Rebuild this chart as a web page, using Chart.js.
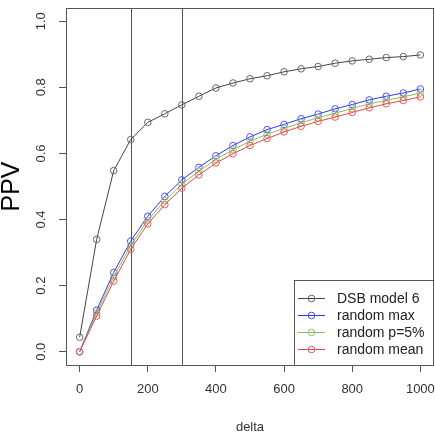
<!DOCTYPE html>
<html>
<head>
<meta charset="utf-8">
<script src="https://cdn.jsdelivr.net/npm/chart.js@4/dist/chart.umd.min.js"></script>
<style>
  html, body { margin: 0; padding: 0; background: #fff; }
  #wrap { width: 435px; height: 432px; }
</style>
</head>
<body>
<div id="wrap"><canvas id="ppv-chart" width="435" height="432"></canvas></div>
<script>
const deltas = [0, 50, 100, 150, 200, 250, 300, 350, 400, 450, 500, 550, 600, 650, 700, 750, 800, 850, 900, 950, 1000];

const dsbModel6 = [0.044, 0.34, 0.548, 0.642, 0.694, 0.72, 0.747, 0.773, 0.798, 0.813, 0.826, 0.835, 0.847, 0.856, 0.863, 0.873, 0.88, 0.885, 0.89, 0.893, 0.898];
const randomMax = [0.0, 0.126, 0.24, 0.335, 0.41, 0.47, 0.52, 0.558, 0.593, 0.624, 0.65, 0.672, 0.688, 0.705, 0.719, 0.735, 0.748, 0.762, 0.773, 0.783, 0.795];
const randomP5 = [0.0, 0.117, 0.227, 0.322, 0.398, 0.457, 0.507, 0.546, 0.582, 0.611, 0.637, 0.658, 0.676, 0.693, 0.708, 0.722, 0.736, 0.75, 0.761, 0.771, 0.783];
const randomMean = [0.0, 0.108, 0.214, 0.31, 0.387, 0.445, 0.495, 0.535, 0.571, 0.599, 0.624, 0.645, 0.665, 0.682, 0.697, 0.71, 0.724, 0.738, 0.75, 0.76, 0.771];

const xTicks = [0, 200, 400, 600, 800, 1000];
const yTicks = [0, 0.2, 0.4, 0.6, 0.8, 1.0];
const cutoffs = [150, 300];

const FONT = "'Liberation Sans', Arial, Helvetica, sans-serif";

function makeSeries(label, values, line, point, order) {
  return {
    label: label,
    data: deltas.map((d, i) => ({ x: d, y: values[i] })),
    borderColor: line,
    borderWidth: 1,
    pointBorderColor: point,
    pointBackgroundColor: 'rgba(0,0,0,0)',
    pointBorderWidth: 1,
    pointRadius: 3.3,
    fill: false,
    tension: 0,
    order: order
  };
}

// box round the plot, vertical cut-off lines and the legend
const extras = {
  id: 'extras',
  beforeDatasetsDraw(chart) {
    const { ctx, chartArea, scales } = chart;
    ctx.save();
    ctx.strokeStyle = '#555';
    ctx.lineWidth = 1;
    cutoffs.forEach(c => {
      const px = Math.round(scales.x.getPixelForValue(c)) + 0.5;
      ctx.beginPath();
      ctx.moveTo(px, chartArea.top);
      ctx.lineTo(px, chartArea.bottom);
      ctx.stroke();
    });
    ctx.restore();
  },
  afterDraw(chart) {
    const { ctx, chartArea } = chart;
    ctx.save();
    ctx.strokeStyle = '#555';
    ctx.lineWidth = 1;
    ctx.strokeRect(chartArea.left + 0.5, chartArea.top + 0.5,
      chartArea.right - chartArea.left - 1, chartArea.bottom - chartArea.top);

    // legend, bottom right corner
    const boxL = 294.5, boxT = 280.5;
    const boxR = chartArea.right - 0.5, boxB = chartArea.bottom + 0.5;
    ctx.fillStyle = '#fff';
    ctx.fillRect(boxL, boxT, boxR - boxL, boxB - boxT);
    ctx.strokeRect(boxL, boxT, boxR - boxL, boxB - boxT);
    ctx.font = '14px ' + FONT;
    ctx.textBaseline = 'middle';
    ctx.textAlign = 'left';
    chart.data.datasets.forEach((ds, i) => {
      const y = 298.5 + i * 17;
      ctx.strokeStyle = ds.borderColor;
      ctx.beginPath();
      ctx.moveTo(298, y);
      ctx.lineTo(325, y);
      ctx.stroke();
      ctx.strokeStyle = ds.pointBorderColor;
      ctx.beginPath();
      ctx.arc(311.5, y, 3.3, 0, Math.PI * 2);
      ctx.stroke();
      ctx.fillStyle = '#222';
      ctx.fillText(ds.label, 337, y + 1);
    });
    ctx.restore();
  }
};

new Chart(document.getElementById('ppv-chart'), {
  type: 'line',
  data: {
    datasets: [
      makeSeries('DSB model 6', dsbModel6, '#444', '#666', 3),
      makeSeries('random max', randomMax, '#3434f0', '#4f4fff', 2),
      makeSeries('random p=5%', randomP5, '#80c060', '#8cc870', 1),
      makeSeries('random mean', randomMean, '#e04848', '#e85a5a', 0)
    ]
  },
  options: {
    responsive: false,
    animation: false,
    events: [],
    layout: { autoPadding: false, padding: { top: 8, right: 1, left: 0, bottom: 0 } },
    plugins: { legend: { display: false }, tooltip: { enabled: false } },
    scales: {
      x: {
        type: 'linear',
        min: -40,
        max: 1040,
        afterBuildTicks: s => { s.ticks = xTicks.map(v => ({ value: v })); },
        afterFit: s => { s.height = 67; s.paddingLeft = 0; s.paddingRight = 0; },
        border: { display: false },
        grid: { drawOnChartArea: false, drawTicks: true, tickLength: 7, color: '#555' },
        ticks: {
          padding: 10,
          color: '#333',
          font: { family: FONT, size: 13 },
          maxRotation: 0,
          callback: v => String(v)
        },
        title: {
          display: true,
          text: 'delta',
          color: '#333',
          font: { family: FONT, size: 13, lineHeight: 1 },
          padding: { top: 0, bottom: -2 }
        }
      },
      y: {
        type: 'linear',
        min: -0.04,
        max: 1.04,
        afterBuildTicks: s => { s.ticks = yTicks.map(v => ({ value: v })); },
        afterFit: s => { s.width = 66; s.paddingTop = 0; s.paddingBottom = 0; },
        border: { display: false },
        grid: { drawOnChartArea: false, drawTicks: true, tickLength: 7, color: '#555' },
        ticks: {
          padding: 9,
          color: '#333',
          crossAlign: 'center',
          minRotation: 90,
          maxRotation: 90,
          font: { family: FONT, size: 13 },
          callback: v => v.toFixed(1)
        },
        title: {
          display: true,
          text: 'PPV',
          color: '#000',
          font: { family: FONT, size: 25, lineHeight: 1 },
          padding: { top: -0.5, bottom: 0 }
        }
      }
    }
  },
  plugins: [extras]
});
</script>
</body>
</html>
